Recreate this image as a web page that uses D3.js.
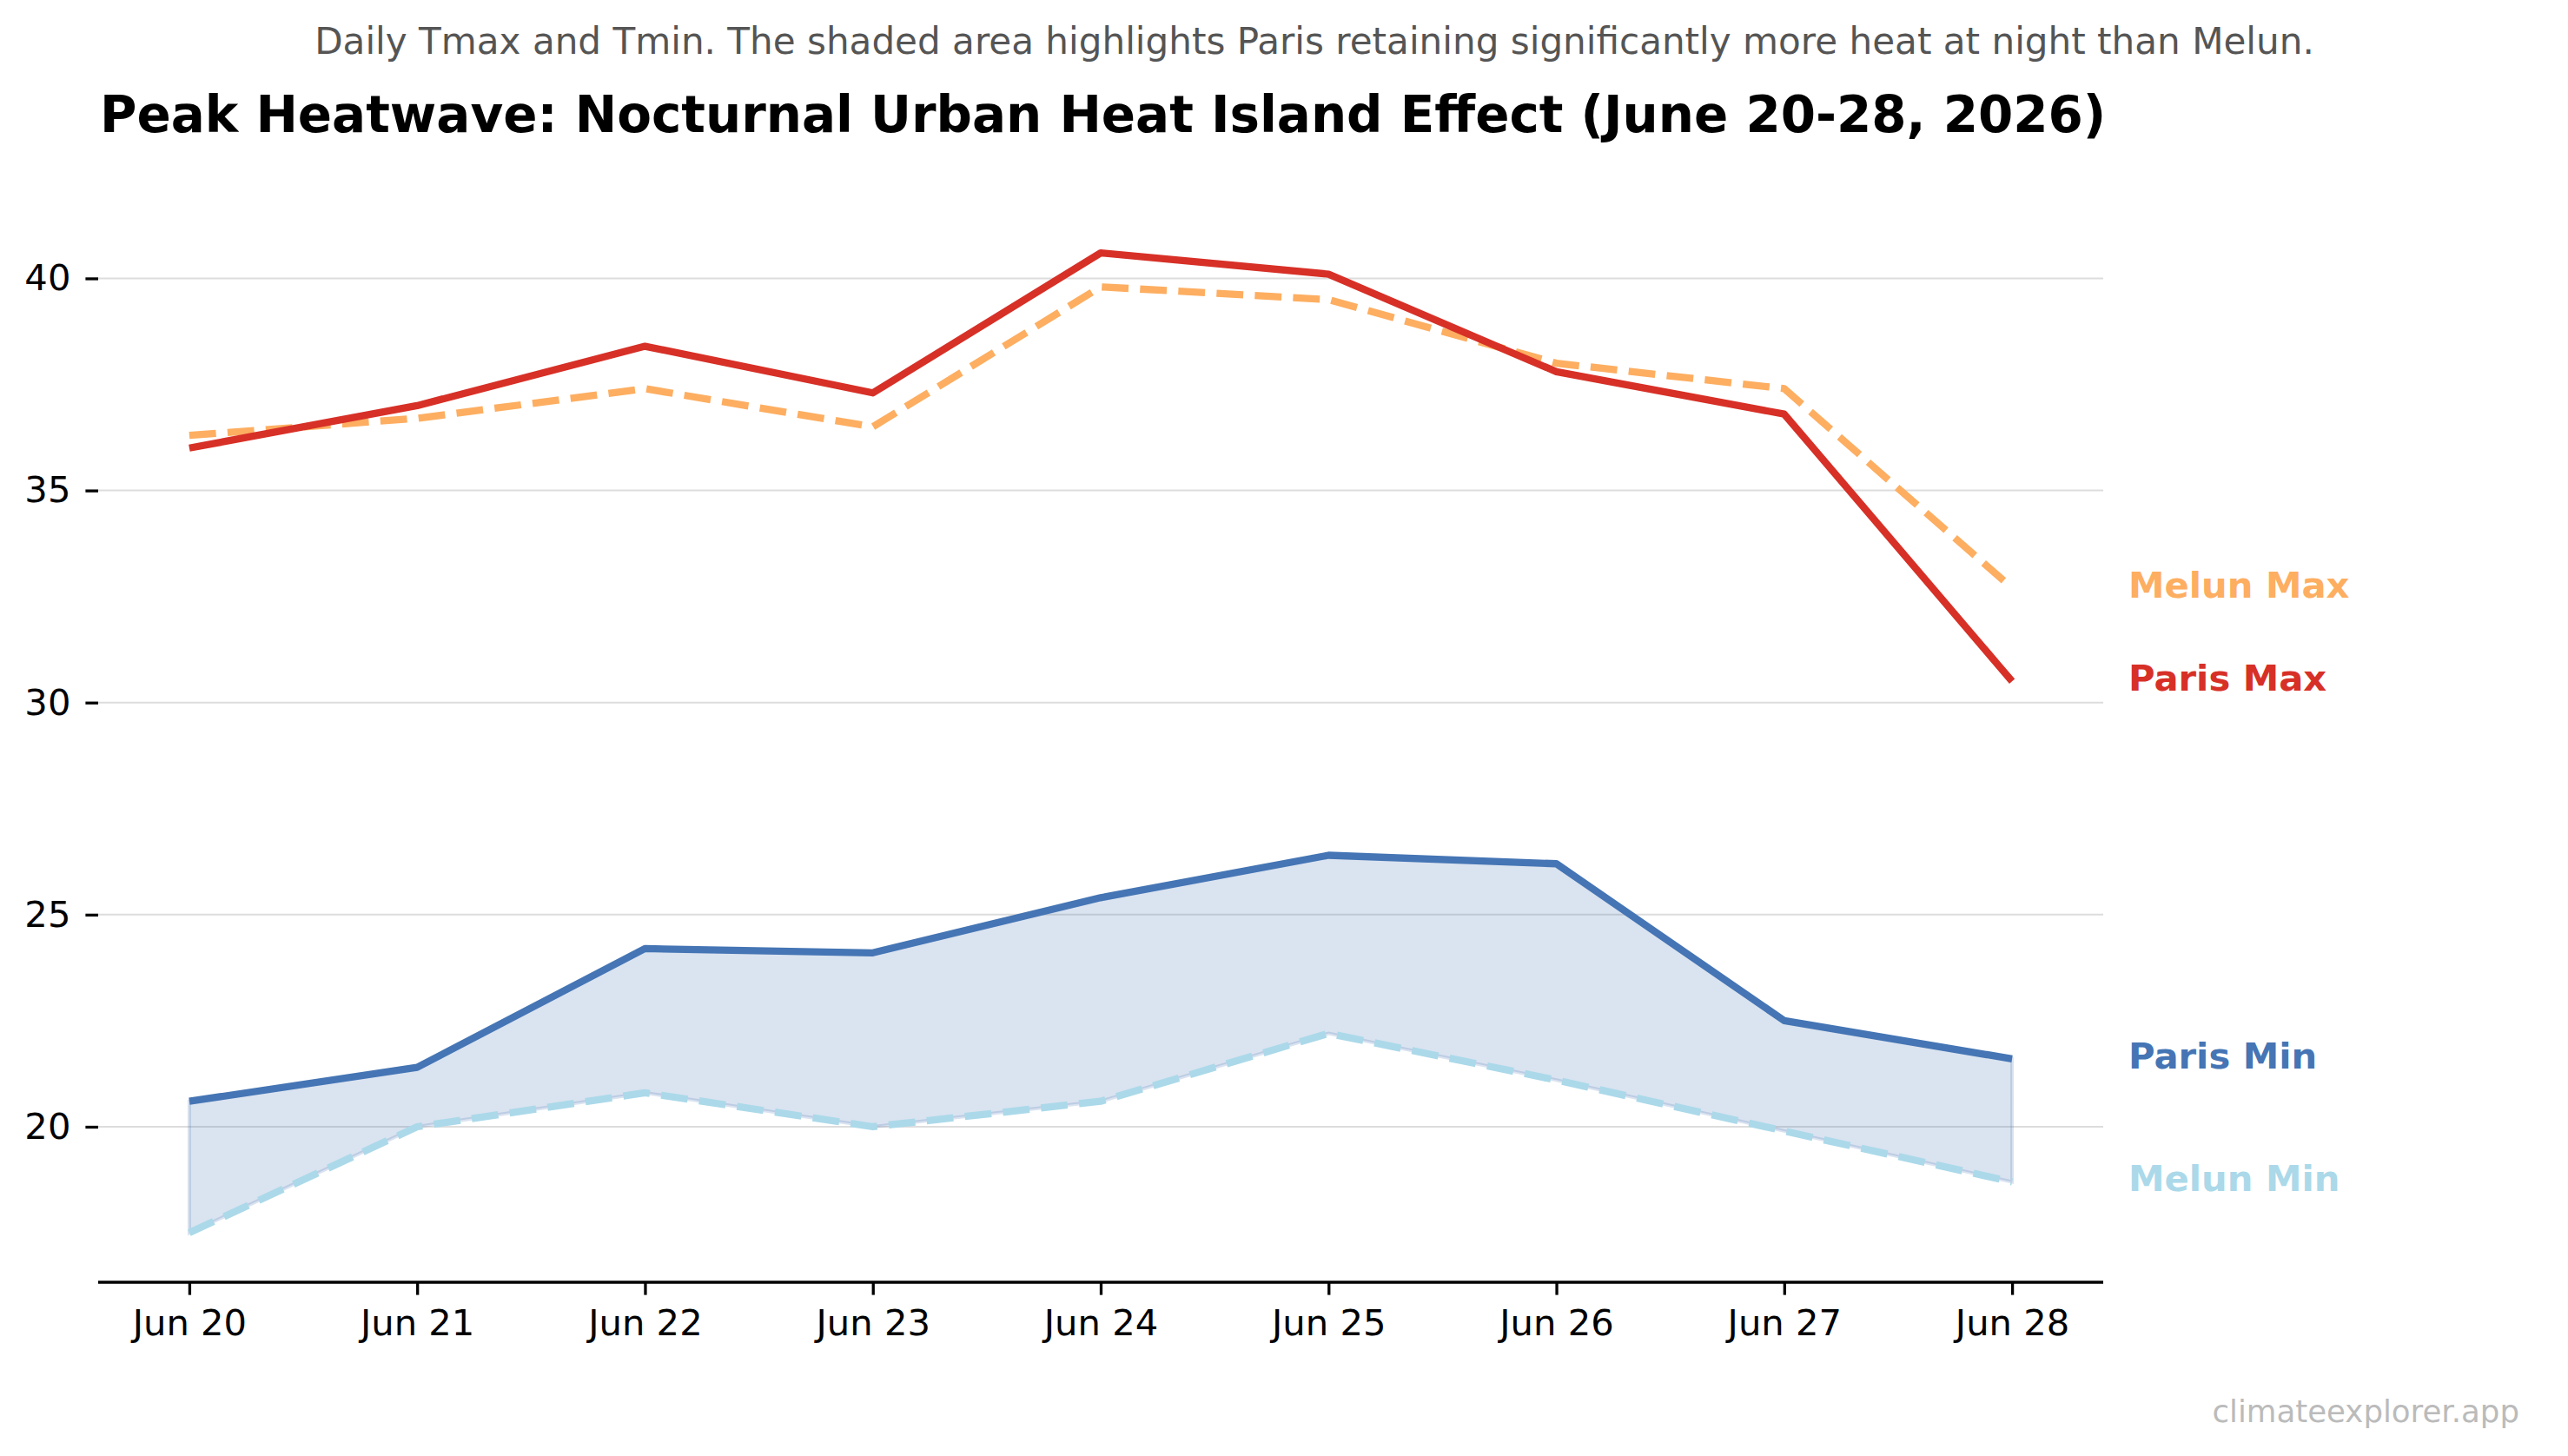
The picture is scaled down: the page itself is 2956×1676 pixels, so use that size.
<!DOCTYPE html>
<html>
<head>
<meta charset="utf-8">
<script src="https://cdn.jsdelivr.net/npm/d3@7"></script>
<style>
  html, body { margin: 0; padding: 0; background: #fff; }
  svg { display: block; }
  text { font-family: "DejaVu Sans", sans-serif; }
</style>
</head>
<body>
<svg id="chart" width="2956" height="1676"></svg>
<script>
// ---- data ----
const days = ["Jun 20", "Jun 21", "Jun 22", "Jun 23", "Jun 24", "Jun 25", "Jun 26", "Jun 27", "Jun 28"];
const parisMax = [36.0, 37.0, 38.4, 37.3, 40.6, 40.1, 37.8, 36.8, 30.5];
const melunMax = [36.3, 36.7, 37.4, 36.5, 39.8, 39.5, 38.0, 37.4, 32.7];
const parisMin = [20.6, 21.4, 24.2, 24.1, 25.4, 26.4, 26.2, 22.5, 21.6];
const melunMin = [17.5, 20.0, 20.8, 20.0, 20.6, 22.2, 21.1, 19.9, 18.7];
const yTicks = [20, 25, 30, 35, 40];
const titleText = "Peak Heatwave: Nocturnal Urban Heat Island Effect (June 20-28, 2026)";
const subtitleText = "Daily Tmax and Tmin. The shaded area highlights Paris retaining significantly more heat at night than Melun.";
const watermark = "climateexplorer.app";

const series = [
  { name: "Melun Max", values: melunMax, color: "#fdae61", dashed: true },
  { name: "Paris Max", values: parisMax, color: "#d73027", dashed: false },
  { name: "Melun Min", values: melunMin, color: "#abd9e9", dashed: true },
  { name: "Paris Min", values: parisMin, color: "#4575b4", dashed: false }
];

// ---- layout ----
const svg = d3.select("#chart");
const plotLeft = 113, plotRight = 2421, plotBottom = 1476, plotTop = 235;

const x = d3.scaleLinear().domain([-0.4, 8.4]).range([plotLeft, plotRight]);
const y = d3.scaleLinear().domain([16.334, 41.75]).range([plotBottom, plotTop]);

// gridlines
svg.append("g").selectAll("line").data(yTicks).join("line")
  .attr("x1", plotLeft).attr("x2", plotRight)
  .attr("y1", d => y(d)).attr("y2", d => y(d))
  .attr("stroke", "#dddddd").attr("stroke-width", 2);

// shaded area between Paris Min and Melun Min
const area = d3.area()
  .x((d, i) => x(i))
  .y0((d, i) => y(melunMin[i]))
  .y1((d, i) => y(parisMin[i]));
svg.append("path")
  .datum(parisMin)
  .attr("d", area)
  .attr("fill", "#4575b4").attr("fill-opacity", 0.2)
  .attr("stroke", "#4575b4").attr("stroke-opacity", 0.2).attr("stroke-width", 4);

// lines
const line = d3.line().x((d, i) => x(i)).y(d => y(d));
svg.append("g").selectAll("path").data(series).join("path")
  .attr("d", d => line(d.values))
  .attr("fill", "none")
  .attr("stroke", d => d.color)
  .attr("stroke-width", 8.3)
  .attr("stroke-linejoin", "round")
  .attr("stroke-linecap", "butt")
  .attr("stroke-dasharray", d => d.dashed ? "30.8,13.3" : null);

// end labels
svg.append("g").selectAll("text").data(series).join("text")
  .attr("x", 2450)
  .attr("y", d => y(d.values[d.values.length - 1]) + 11)
  .attr("fill", d => d.color)
  .attr("font-weight", "bold")
  .attr("font-size", 41.7)
  .text(d => d.name);

// y axis (no spine)
const yAxis = svg.append("g").attr("transform", `translate(${plotLeft},0)`)
  .call(d3.axisLeft(y).tickValues(yTicks).tickSize(14.6).tickPadding(17).tickFormat(d3.format("d")));
yAxis.select(".domain").remove();
yAxis.selectAll(".tick line").attr("stroke", "#000").attr("stroke-width", 3.3);
yAxis.selectAll(".tick text").attr("font-size", 41.7).attr("fill", "#000")
  .attr("font-family", "DejaVu Sans, sans-serif");

// x axis
const xAxis = svg.append("g").attr("transform", `translate(0,${plotBottom})`)
  .call(d3.axisBottom(x).tickValues(d3.range(days.length)).tickSize(14.6).tickPadding(17)
    .tickFormat(i => days[i]));
xAxis.select(".domain").attr("d", `M${plotLeft},0H${plotRight}`).attr("stroke", "#000").attr("stroke-width", 3.3);
xAxis.selectAll(".tick line").attr("stroke", "#000").attr("stroke-width", 3.3);
xAxis.selectAll(".tick text").attr("font-size", 41.7).attr("fill", "#000")
  .attr("font-family", "DejaVu Sans, sans-serif");

// title & subtitle
svg.append("text").attr("x", 115).attr("y", 152)
  .attr("font-size", 57.9).attr("font-weight", "bold").attr("fill", "#000")
  .text(titleText);
svg.append("text").attr("x", 1513).attr("y", 62).attr("text-anchor", "middle")
  .attr("font-size", 42.1).attr("fill", "#555555")
  .text(subtitleText);

// watermark
svg.append("text").attr("x", 2900).attr("y", 1637).attr("text-anchor", "end")
  .attr("font-size", 35.6).attr("fill", "#bbbbbb")
  .text(watermark);
</script>
</body>
</html>
